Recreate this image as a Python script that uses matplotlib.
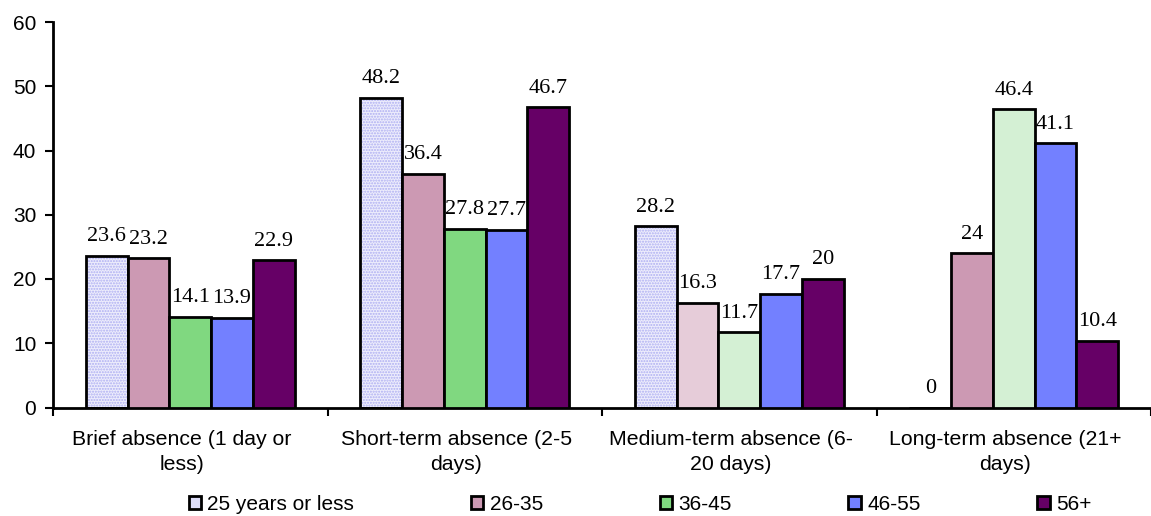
import matplotlib
matplotlib.use("Agg")
import matplotlib.pyplot as plt
import numpy as np
from matplotlib.patches import Rectangle

categories = ["Brief absence (1 day or\nless)", "Short-term absence (2-5\ndays)",
              "Medium-term absence (6-\n20 days)", "Long-term absence (21+\ndays)"]
series = ["25 years or less", "26-35", "36-45", "46-55", "56+"]
values = {
    "25 years or less": [23.6, 48.2, 28.2, 0],
    "26-35": [23.2, 36.4, 16.3, 24],
    "36-45": [14.1, 27.8, 11.7, 46.4],
    "46-55": [13.9, 27.7, 17.7, 41.1],
    "56+": [22.9, 46.7, 20, 10.4],
}
yticks = [0, 10, 20, 30, 40, 50, 60]

colors = {
    "25 years or less": "#EDEDFC",
    "26-35": "#CC99B3",
    "36-45": "#80D880",
    "46-55": "#7380FF",
    "56+": "#660066",
}
# lighter fills used for some individual bars in the original
overrides = {("26-35", 2): "#E6CCD9", ("36-45", 2): "#D4F0D4", ("36-45", 3): "#D4F0D4"}
hatch_color = "#AEAEF2"

W, H = 1151, 516
fig = plt.figure(figsize=(W / 100, H / 100), dpi=100)
ax = fig.add_axes([53 / W, (H - 407.5) / H, (W - 53) / W, (407.5 - 22) / H])

x = np.arange(len(categories))
bw = 0.152
serif = ["Liberation Serif", "DejaVu Serif"]
sans = ["Liberation Sans", "DejaVu Sans"]

for i, s in enumerate(series):
    pos = x + (i - 2) * bw
    vals = values[s]
    fcs = [overrides.get((s, j), colors[s]) for j in range(len(vals))]
    if i == 0:
        ax.bar(pos, vals, bw, color=fcs, hatch="......", edgecolor=hatch_color,
               linewidth=0, zorder=2)
        ax.bar(pos, vals, bw, fill=False, edgecolor="black", linewidth=2, zorder=3)
    else:
        ax.bar(pos, vals, bw, color=fcs, edgecolor="black", linewidth=2, zorder=3)
    for p, v in zip(pos, vals):
        ax.annotate(f"{v:g}", (p, v), xytext=(0, 7), textcoords="offset points",
                    ha="center", va="bottom", fontsize=16, family=serif)

ax.set_xlim(-0.5, -0.5 + (W - 53) / 277)
ax.set_ylim(0, 60)
ax.set_yticks(yticks)
ax.set_yticklabels([str(t) for t in yticks], family=sans, fontsize=15)
ax.set_xticks(np.arange(-0.5, len(categories), 1.0))
ax.set_xticklabels([])
ax.set_xticks(x - 0.03, minor=True)
ax.set_xticklabels(categories, minor=True, family=sans, fontsize=15.3, linespacing=1.45)
ax.tick_params(axis="x", which="minor", length=0, pad=16)
ax.tick_params(axis="x", which="major", length=6, width=1.5, direction="out")
ax.tick_params(axis="y", length=6, width=1.5, direction="out", pad=6)
for sp in ["top", "right"]:
    ax.spines[sp].set_visible(False)
for sp in ["left", "bottom"]:
    ax.spines[sp].set_linewidth(2)

# legend
handles = []
for i, s in enumerate(series):
    fc = "#DCDCF8" if i == 0 else colors[s]
    handles.append(Rectangle((0, 0), 1, 1, facecolor=fc, edgecolor="black", linewidth=2))
leg = fig.legend(handles, series, loc="center", bbox_to_anchor=(640 / W, 1 - 504 / H), ncol=5,
                 frameon=False, prop={"family": sans, "size": 15}, handlelength=0.6,
                 handleheight=0.6, handletextpad=0.3, columnspacing=5.6)

fig.savefig("out.png", dpi=100)
